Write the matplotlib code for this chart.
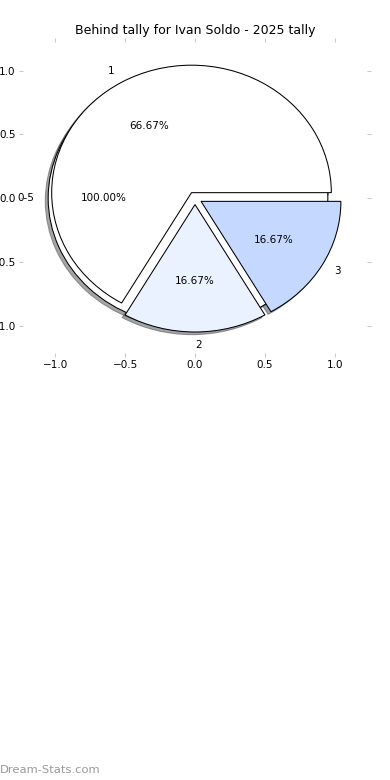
import matplotlib
matplotlib.use('Agg')
import matplotlib.pyplot as plt

title = "Behind tally for Ivan Soldo - 2025 tally"
outer_labels = ['0-5']
outer_values = [1]
inner_labels = ['1', '2', '3']
inner_values = [4, 1, 1]
inner_colors = ['#ffffff', '#eaf1ff', '#c5d8ff']
ticks = [-1.0, -0.5, 0.0, 0.5, 1.0]

fig = plt.figure(figsize=(5.2, 10.4), dpi=75)
ax = fig.add_axes([0.059, 0.5474, 0.882, 0.3987])
wp = dict(edgecolor='black', linewidth=1)
ax.pie(outer_values, labels=outer_labels, colors=['white'], explode=[0.05],
       shadow=True, autopct='%1.2f%%', wedgeprops=wp, frame=True)
ax.pie(inner_values, labels=inner_labels, colors=inner_colors,
       explode=[0.05] * 3, shadow=True, autopct='%1.2f%%', wedgeprops=wp,
       frame=True)
ax.set_aspect('auto')
ax.set_xlim(-1.23, 1.23)
ax.set_ylim(-1.215, 1.225)
ax.set_xticks(ticks)
ax.set_yticks(ticks)
for s in ax.spines.values():
    s.set_visible(False)
ax.tick_params(top=True, right=True, direction='out', color='#c8c8c8',
               length=3.5, width=1)
ax.set_title(title, pad=8)
fig.text(0.0, 1 - 770 / 780, 'Dream-Stats.com', color='#999999',
         fontsize=11, ha='left', va='center')
fig.savefig('out.png', dpi=75)
